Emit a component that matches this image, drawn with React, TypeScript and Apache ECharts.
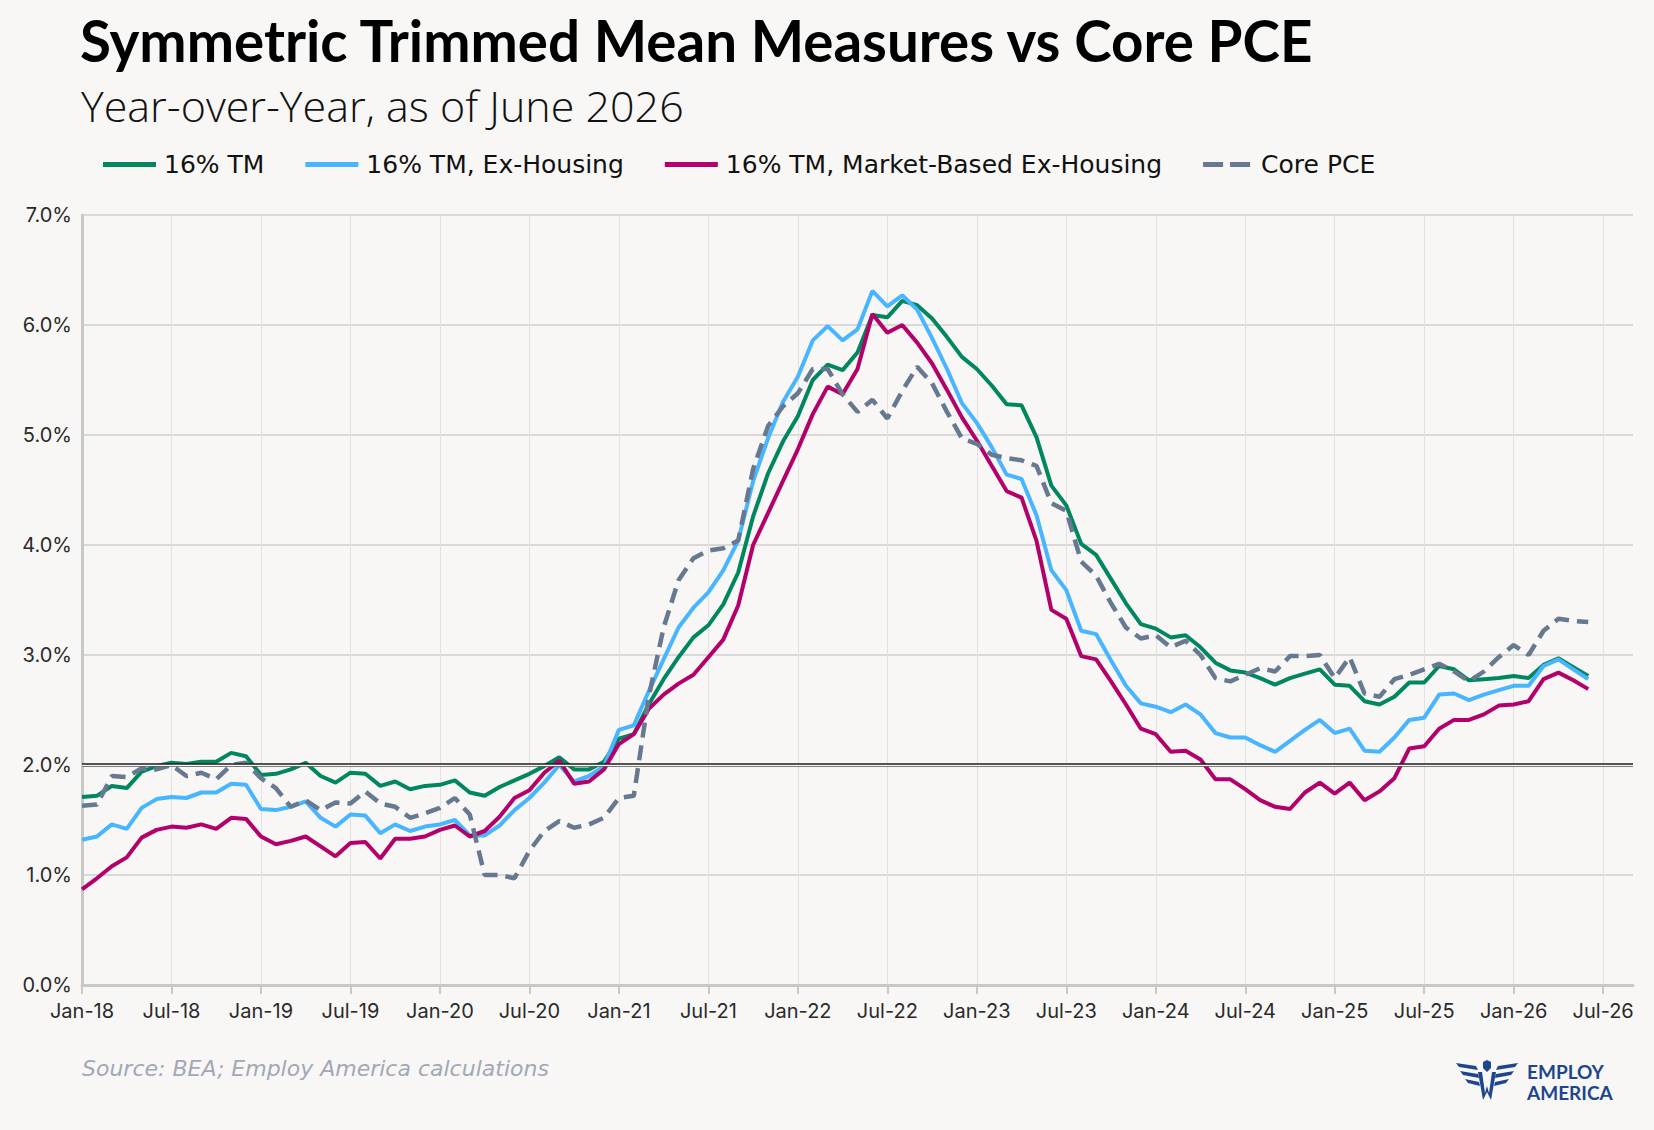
import React, { useEffect, useRef } from 'react';
import * as echarts from 'echarts';

// month labels Jan-18 .. Sep-26 (axis runs a little past the last print)
const monthNames = ['Jan', 'Feb', 'Mar', 'Apr', 'May', 'Jun', 'Jul', 'Aug', 'Sep', 'Oct', 'Nov', 'Dec'];
const categories: string[] = [];
for (let y = 18; y <= 26; y++) {
  for (const m of monthNames) {
    if (categories.length < 105) categories.push(m + '-' + y);
  }
}

// 16% trimmed mean, Jan-18 .. Jun-26
const tm16 = [
  1.71, 1.72, 1.81, 1.79, 1.94, 1.99, 2.02, 2.01, 2.03, 2.03, 2.11, 2.08,
  1.91, 1.92, 1.96, 2.02, 1.90, 1.84, 1.93, 1.92, 1.81, 1.85, 1.78, 1.81,
  1.82, 1.86, 1.75, 1.72, 1.80, 1.86, 1.92, 1.99, 2.07, 1.96, 1.96, 2.03,
  2.24, 2.28, 2.55, 2.78, 2.98, 3.16, 3.27, 3.46, 3.75, 4.26, 4.65, 4.94,
  5.17, 5.50, 5.64, 5.59, 5.75, 6.09, 6.07, 6.22, 6.18, 6.06, 5.89, 5.71,
  5.60, 5.45, 5.28, 5.27, 4.98, 4.54, 4.36, 4.01, 3.91, 3.69, 3.47, 3.28,
  3.24, 3.16, 3.18, 3.07, 2.93, 2.86, 2.84, 2.79, 2.73, 2.79, 2.83, 2.87,
  2.73, 2.72, 2.58, 2.55, 2.62, 2.75, 2.75, 2.90, 2.87, 2.77, 2.78, 2.79,
  2.81, 2.79, 2.91, 2.97, 2.89, 2.81,
];

const tm16ExHousing = [
  1.32, 1.35, 1.46, 1.42, 1.61, 1.69, 1.71, 1.70, 1.75, 1.75, 1.83, 1.82,
  1.60, 1.59, 1.62, 1.67, 1.52, 1.44, 1.55, 1.54, 1.38, 1.46, 1.40, 1.44,
  1.46, 1.50, 1.36, 1.36, 1.45, 1.59, 1.70, 1.84, 2.00, 1.85, 1.90, 1.99,
  2.32, 2.36, 2.67, 2.96, 3.25, 3.43, 3.57, 3.77, 4.04, 4.58, 4.97, 5.30,
  5.53, 5.86, 5.99, 5.86, 5.96, 6.31, 6.17, 6.27, 6.14, 5.88, 5.60, 5.29,
  5.11, 4.89, 4.64, 4.60, 4.27, 3.77, 3.59, 3.22, 3.19, 2.95, 2.72, 2.56,
  2.53, 2.48, 2.55, 2.46, 2.29, 2.25, 2.25, 2.18, 2.12, 2.22, 2.32, 2.41,
  2.29, 2.33, 2.13, 2.12, 2.25, 2.41, 2.43, 2.64, 2.65, 2.59, 2.64, 2.68,
  2.72, 2.72, 2.90, 2.96, 2.87, 2.78,
];

const tm16MarketExHousing = [
  0.87, 0.97, 1.08, 1.16, 1.34, 1.41, 1.44, 1.43, 1.46, 1.42, 1.52, 1.51,
  1.35, 1.28, 1.31, 1.35, 1.26, 1.17, 1.29, 1.30, 1.15, 1.33, 1.33, 1.35,
  1.41, 1.45, 1.35, 1.40, 1.53, 1.70, 1.77, 1.93, 2.04, 1.83, 1.85, 1.96,
  2.19, 2.28, 2.51, 2.64, 2.74, 2.82, 2.98, 3.14, 3.45, 4.00, 4.29, 4.58,
  4.87, 5.19, 5.44, 5.37, 5.60, 6.10, 5.93, 6.00, 5.84, 5.65, 5.41, 5.16,
  4.95, 4.72, 4.49, 4.43, 4.04, 3.41, 3.33, 2.99, 2.96, 2.76, 2.55, 2.33,
  2.28, 2.12, 2.13, 2.05, 1.87, 1.87, 1.78, 1.68, 1.62, 1.60, 1.75, 1.84,
  1.74, 1.84, 1.68, 1.76, 1.88, 2.15, 2.17, 2.33, 2.41, 2.41, 2.46, 2.54,
  2.55, 2.58, 2.78, 2.84, 2.77, 2.69,
];

const corePce = [
  1.63, 1.64, 1.90, 1.89, 1.97, 1.96, 2.00, 1.90, 1.93, 1.87, 2.00, 2.02,
  1.88, 1.79, 1.62, 1.68, 1.59, 1.66, 1.65, 1.76, 1.65, 1.62, 1.52, 1.56,
  1.61, 1.70, 1.55, 1.00, 1.00, 0.97, 1.22, 1.40, 1.49, 1.43, 1.46, 1.52,
  1.70, 1.72, 2.62, 3.25, 3.68, 3.88, 3.95, 3.97, 4.04, 4.69, 5.08, 5.26,
  5.38, 5.60, 5.60, 5.37, 5.21, 5.32, 5.15, 5.40, 5.62, 5.47, 5.21, 4.97,
  4.92, 4.82, 4.79, 4.77, 4.72, 4.38, 4.31, 3.85, 3.72, 3.47, 3.25, 3.15,
  3.18, 3.07, 3.13, 3.00, 2.79, 2.76, 2.82, 2.88, 2.85, 2.99, 2.99, 3.00,
  2.79, 2.98, 2.65, 2.62, 2.78, 2.82, 2.87, 2.92, 2.85, 2.76, 2.85, 2.98,
  3.09, 3.00, 3.22, 3.33, 3.31, 3.30,
];

const yTicks = [0, 1, 2, 3, 4, 5, 6, 7];
const target = 2;

const BG = '#f8f7f5';

// rough Employ America mark
const logoPath =
  'M0 3L20 6L22 10L3 7Z M4 11L22 14L23 18L7 15Z M9 19L23 22L24 26L12 23Z ' +
  'M62 3L42 6L40 10L59 7Z M58 11L40 14L39 18L55 15Z M53 19L39 22L38 26L50 23Z ' +
  'M27 2L31 0L35 2L35 8L31 12L27 8Z ' +
  'M22 12L26 12L29 33L31 26L33 33L36 12L40 12L35 40L31 32L27 40Z';
echarts.graphic.registerShape('eaLogo', echarts.graphic.extendPath(logoPath, {}) as any);

const App: React.FC = () => {
  const chartRef = useRef<HTMLDivElement>(null);

  useEffect(() => {
    if (!chartRef.current) return;
    const myChart = echarts.init(chartRef.current, undefined, { renderer: 'svg' });

    const lineSeries = (name: string, data: number[], color: string, extra: any = {}) => ({
      name,
      type: 'line',
      data,
      symbol: 'none',
      smooth: false,
      z: 3,
      lineStyle: { color, width: 4, ...(extra.lineStyle || {}) },
      itemStyle: { color },
      emphasis: { disabled: true },
    });

    const option = {
      animation: false,
      backgroundColor: BG,
      textStyle: { fontFamily: 'Inter' },
      grid: { left: 82, right: 21, top: 215, bottom: 145, containLabel: false },
      legend: {
        left: 98,
        top: 147,
        itemWidth: 53,
        itemHeight: 5,
        itemGap: 41,
        icon: 'rect',
        textStyle: { fontFamily: 'DejaVu Sans', fontSize: 25, color: '#111', padding: [0, 0, 0, 3] },
        data: [
          '16% TM',
          '16% TM, Ex-Housing',
          '16% TM, Market-Based Ex-Housing',
          { name: 'Core PCE', icon: 'path://M0,0H20V5H0Z M27,0H47V5H27Z' },
        ],
      },
      xAxis: {
        type: 'category',
        data: categories,
        boundaryGap: false,
        axisLine: { show: true, lineStyle: { color: '#c8c8c8', width: 3 } },
        axisTick: { show: true, interval: 5, length: 9, lineStyle: { color: '#c8c8c8', width: 2 } },
        axisLabel: {
          interval: 5,
          margin: 16,
          fontFamily: 'Inter',
          fontSize: 20,
          color: '#2a2a2a',
        },
        splitLine: { show: true, interval: 5, lineStyle: { color: '#e3e2e0', width: 1 } },
      },
      yAxis: {
        type: 'value',
        min: yTicks[0],
        max: yTicks[yTicks.length - 1],
        interval: 1,
        axisLine: { show: true, lineStyle: { color: '#c8c8c8', width: 3 } },
        axisTick: { show: false },
        axisLabel: {
          margin: 10,
          fontFamily: 'Inter',
          fontSize: 20,
          color: '#2a2a2a',
          formatter: (v: number) => v.toFixed(1) + '%',
        },
        splitLine: { show: true, lineStyle: { color: '#cfcfcf', width: 1.5 } },
      },
      series: [
        {
          name: 'target',
          type: 'line',
          data: [],
          z: 1,
          silent: true,
          markLine: {
            silent: true,
            symbol: 'none',
            label: { show: false },
            data: [
              { yAxis: target, lineStyle: { color: '#1e1e1e', width: 3.6, type: 'solid' } },
              { yAxis: target, lineStyle: { color: BG, width: 1.4, type: 'solid' } },
            ],
          },
        },
        lineSeries('16% TM', tm16, '#00875f'),
        lineSeries('16% TM, Ex-Housing', tm16ExHousing, '#47b5ff'),
        lineSeries('16% TM, Market-Based Ex-Housing', tm16MarketExHousing, '#b3006a'),
        lineSeries('Core PCE', corePce, '#677891', { lineStyle: { type: [15, 8], width: 4.5 } }),
      ],
      graphic: [
        {
          type: 'text',
          left: 80,
          top: 11,
          style: {
            text: 'Symmetric Trimmed Mean Measures vs Core PCE',
            font: 'bold 56.5px Lato',
            fill: '#000',
          },
        },
        {
          type: 'text',
          left: 81,
          top: 84,
          style: {
            text: 'Year-over-Year, as of June 2026',
            font: '300 43px "Open Sans"',
            fill: '#111',
          },
        },
        {
          type: 'text',
          left: 82,
          top: 1057,
          style: {
            text: 'Source: BEA; Employ America calculations',
            font: 'italic 22px "DejaVu Sans"',
            fill: '#a3a7b6',
          },
        },
        {
          type: 'eaLogo',
          x: 1456,
          y: 1060,
          scaleX: 1,
          scaleY: 1,
          style: { fill: '#1d468f' },
        },
        {
          type: 'text',
          left: 1527,
          top: 1062,
          style: { text: 'EMPLOY', font: 'bold 19px Lato', fill: '#1d468f' },
        },
        {
          type: 'text',
          left: 1527,
          top: 1083,
          style: { text: 'AMERICA', font: 'bold 19px Lato', fill: '#1d468f' },
        },
      ],
    };

    myChart.setOption(option as any);

    return () => {
      myChart.dispose();
    };
  }, []);

  return (
    <div
      ref={chartRef}
      style={{ position: 'absolute', left: 0, top: 0, width: 1654, height: 1130, background: BG }}
    ></div>
  );
};

export default App;
